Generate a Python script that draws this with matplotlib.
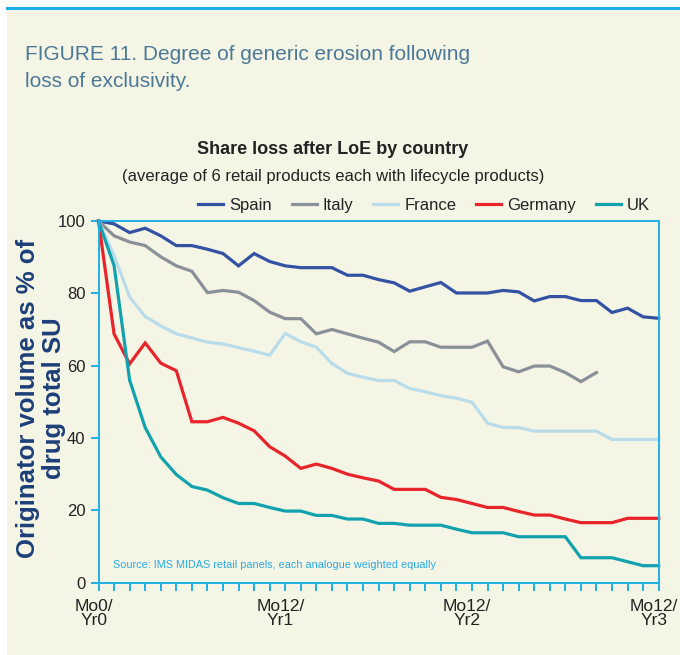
import matplotlib
matplotlib.use("Agg")
import matplotlib.pyplot as plt
from matplotlib.patches import Rectangle
from matplotlib.lines import Line2D

# months since loss of exclusivity
months = list(range(37))

spain = [100, 99.2, 96.8, 98.0, 95.9, 93.2, 93.2, 92.2, 91.0, 87.6, 91.0, 88.8, 87.6,
         87.1, 87.1, 87.1, 85.0, 85.0, 83.8, 82.9, 80.6, 81.8, 83.0, 80.1, 80.1, 80.1,
         80.8, 80.4, 77.9, 79.1, 79.1, 78.0, 78.0, 74.7, 75.9, 73.5, 73.1]
italy = [100, 95.9, 94.2, 93.2, 90.1, 87.6, 86.1, 80.2, 80.8, 80.3, 78.0, 74.8, 73.0,
         73.0, 68.8, 70.0, 68.8, 67.6, 66.5, 63.9, 66.6, 66.6, 65.1, 65.1, 65.1, 66.8,
         59.7, 58.3, 59.9, 59.9, 58.1, 55.6, 58.1]
france = [100, 90.5, 79.0, 73.6, 71.0, 68.8, 67.7, 66.5, 66.0, 65.0, 64.0, 62.9, 68.9,
          66.6, 65.1, 60.6, 57.9, 56.8, 55.9, 55.9, 53.7, 52.8, 51.7, 51.0, 49.9, 44.1,
          42.9, 42.9, 41.9, 41.9, 41.9, 41.9, 41.9, 39.6, 39.6, 39.6, 39.6]
germany = [100, 68.8, 60.5, 66.3, 60.7, 58.6, 44.5, 44.5, 45.7, 44.1, 42.0, 37.6, 35.0,
           31.6, 32.8, 31.6, 30.0, 29.0, 28.1, 25.8, 25.8, 25.8, 23.6, 23.0, 21.9, 20.8,
           20.8, 19.7, 18.7, 18.7, 17.6, 16.6, 16.6, 16.6, 17.8, 17.8, 17.8]
uk = [100, 87.7, 56.0, 42.9, 34.8, 29.9, 26.6, 25.6, 23.5, 21.9, 21.9, 20.8, 19.8,
      19.8, 18.6, 18.6, 17.6, 17.6, 16.4, 16.4, 15.9, 15.9, 15.9, 14.8, 13.8, 13.8,
      13.8, 12.7, 12.7, 12.7, 12.7, 6.9, 6.9, 6.9, 5.8, 4.7, 4.7]

series = [("Spain", spain, "#3452a3"),
          ("Italy", italy, "#899097"),
          ("France", france, "#b9dcea"),
          ("Germany", germany, "#e8242b"),
          ("UK", uk, "#12a2ad")]

yticks = [0, 20, 40, 60, 80, 100]
xtick_pos = [0, 12, 24, 36]
xtick_labels = ["Mo0/\nYr0", "Mo12/\nYr1", "Mo12/\nYr2", "Mo12/\nYr3"]

cream = "#f5f5e6"
cyan = "#1eb0e6"
plt.rcParams['font.family'] = ["Liberation Sans", "DejaVu Sans"]

fig = plt.figure(figsize=(6.8, 6.55), dpi=100, facecolor="white")
# cream panel with a cyan rule at the top
fig.patches.append(Rectangle((7 / 680, 0), 1, 1 - 8 / 655, transform=fig.transFigure,
                             facecolor=cream, edgecolor="none", zorder=-5))
fig.add_artist(Line2D([7 / 680, 1], [1 - 8 / 655, 1 - 8 / 655], color=cyan, lw=2.2))

fig.text(25 / 680, 1 - 68 / 655, "FIGURE 11. Degree of generic erosion following\nloss of exclusivity.",
         fontsize=15, color="#4b7896", va="center", ha="left", linespacing=1.5)
fig.text(333 / 680, 1 - 150 / 655, "Share loss after LoE by country", fontsize=13,
         fontweight="bold", color="#222222", ha="center", va="center")
fig.text(333 / 680, 1 - 176 / 655, "(average of 6 retail products each with lifecycle products)",
         fontsize=12, color="#222222", ha="center", va="center")

ax = fig.add_axes([98.5 / 680, 1 - 582.7 / 655, (658.7 - 98.5) / 680, (582.7 - 221) / 655])
ax.set_facecolor("none")
for name, vals, col in series:
    ax.plot(months[:len(vals)], vals, color=col, lw=2.3, label=name, clip_on=False,
            solid_joinstyle="miter")

ax.set_xlim(0, 36)
ax.set_ylim(0, 100)
for sp in ax.spines.values():
    sp.set_color(cyan)
    sp.set_linewidth(1.4)
ax.set_yticks(yticks)
ax.set_xticks(months)
ax.set_xticklabels([])
ax.tick_params(axis="both", color=cyan, width=1.4, length=6, labelsize=12,
               labelcolor="#222222")
# month labels
for pos, lab in zip(xtick_pos, xtick_labels):
    ax.text(pos - 0.3, -4.5, lab, ha="center", va="top", fontsize=12.5, color="#222222",
            linespacing=0.95)

ax.text(0.9, 5, "Source: IMS MIDAS retail panels, each analogue weighted equally",
        fontsize=7.8, color="#29abe2", ha="left", va="center")

fig.text(41 / 680, 1 - 398 / 655, "Originator volume as % of\ndrug total SU", rotation=90,
         fontsize=18.5, fontweight="bold", color="#1d3f78", ha="center", va="center",
         linespacing=1.1)

ax.legend(loc="lower right", bbox_to_anchor=(0.99, 1.012), ncol=5, frameon=False,
          fontsize=12, handlelength=1.5, handletextpad=0.35, columnspacing=1.2,
          borderaxespad=0.1, labelcolor="#222222", borderpad=0.1)

fig.savefig("out.png", dpi=100, facecolor="white")
